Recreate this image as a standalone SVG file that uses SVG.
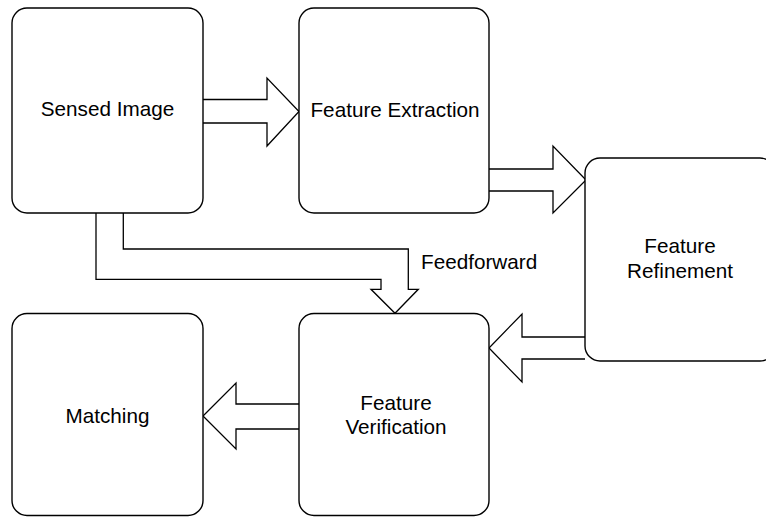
<svg xmlns="http://www.w3.org/2000/svg" width="766" height="519" viewBox="0 0 766 519">
  <style>
    .box { fill: #ffffff; stroke: #000000; stroke-width: 1.4; }
    .arrow { fill: #ffffff; stroke: #000000; stroke-width: 1.3; stroke-linejoin: miter; }
    .label { font-family: "Liberation Sans", Arial, sans-serif; font-size: 20.7px; fill: #000000; text-anchor: middle; }
    .note { font-family: "Liberation Sans", Arial, sans-serif; font-size: 20.7px; fill: #000000; }
  </style>
  <rect width="766" height="519" fill="#ffffff"/>

  <!-- block arrows between stages -->
  <g id="connectors">
    <path class="arrow" d="M203,99.5 H267 V78 L299,111.5 L267,146 V123 H203"/>
    <path class="arrow" d="M489,169 H553 V146 L586,180 L553,213 V191 H489"/>
    <path class="arrow" d="M585,337 H522 V314 L489,348 L522,382 V359 H585"/>
    <path class="arrow" d="M299,404 H236 V383 L203,416 L236,449 V429 H299"/>
    <!-- feedforward path from the sensed image into verification -->
    <path class="arrow" d="M96,213 V279.3 H381 V289.3 H371 L395,313.3 L418.3,289.3 H408.3 V249 H123.3 V213"/>
    <text class="note" x="421" y="269">Feedforward</text>
  </g>

  <g id="sensed-image">
    <rect class="box" x="12" y="8" width="191" height="205" rx="15" ry="15"/>
    <text class="label" x="107.5" y="116">Sensed Image</text>
  </g>

  <g id="feature-extraction">
    <rect class="box" x="299" y="8" width="190" height="205" rx="15" ry="15"/>
    <text class="label" x="395" y="117">Feature Extraction</text>
  </g>

  <g id="feature-refinement">
    <rect class="box" x="585" y="158" width="190" height="203" rx="15" ry="15"/>
    <text class="label" x="680" y="253">Feature</text>
    <text class="label" x="680" y="278">Refinement</text>
  </g>

  <g id="feature-verification">
    <rect class="box" x="299" y="313.5" width="190" height="202" rx="15" ry="15"/>
    <text class="label" x="396" y="410">Feature</text>
    <text class="label" x="396" y="434">Verification</text>
  </g>

  <g id="matching">
    <rect class="box" x="12" y="313.5" width="191" height="202" rx="15" ry="15"/>
    <text class="label" x="107.5" y="423">Matching</text>
  </g>
</svg>
